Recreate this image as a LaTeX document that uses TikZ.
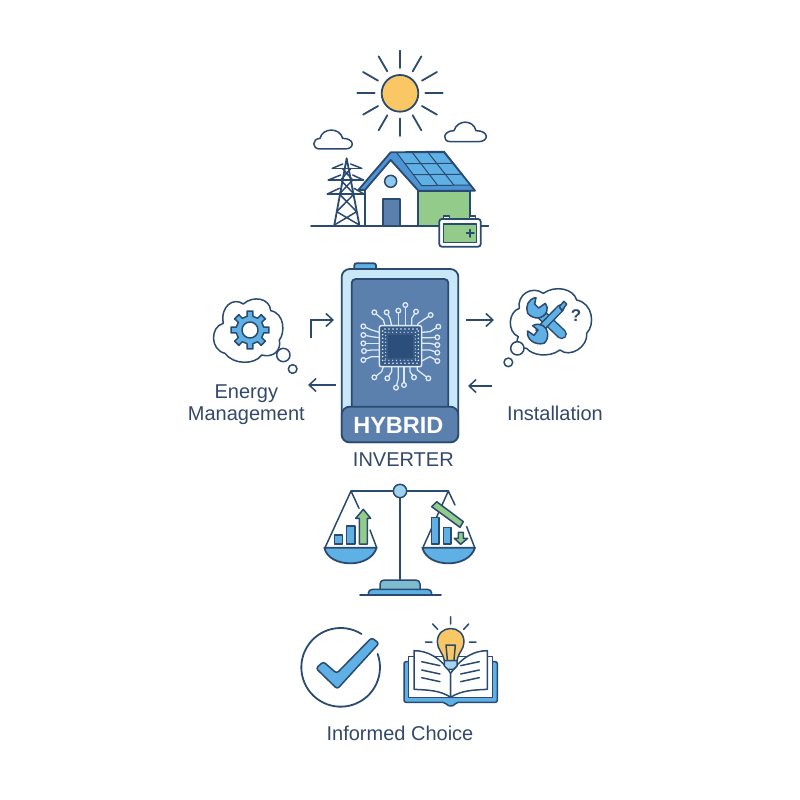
\documentclass[tikz,border=0pt]{standalone}
\usepackage{fontspec}
\setmainfont{Liberation Sans}
\usetikzlibrary{arrows.meta,calc}
\definecolor{ink}{HTML}{2B4A6F}
\definecolor{labelink}{HTML}{34496A}
\definecolor{sky}{HTML}{5FB0E5}
\definecolor{roofblue}{HTML}{4C94D4}
\definecolor{leaf}{HTML}{93CB8B}
\definecolor{sunny}{HTML}{F9C864}
\definecolor{steel}{HTML}{5B80AD}
\definecolor{pale}{HTML}{C9E7F6}
\definecolor{teal}{HTML}{7DBBD0}
\definecolor{chipdark}{HTML}{2C4E7A}
\definecolor{trace}{HTML}{DCEBF6}
\tikzset{
  line/.style={draw=ink,line width=1.8pt,line join=round,line cap=round},
  thin line/.style={draw=ink,line width=1.5pt,line join=round,line cap=round},
  hair line/.style={draw=ink,line width=1pt,line join=round,line cap=round},
  flow/.style={draw=ink,line width=1.5pt,-{Straight Barb[length=7pt,width=13pt]}},
  caption/.style={text=labelink,font=\fontsize{20}{22}\selectfont,inner sep=0pt,anchor=base},
  region/.style={x=0.33333pt,y=-0.33333pt},
  trace line/.style={draw=trace,line width=1.3pt,line join=round},
  trace pad/.style={draw=trace,line width=1.3pt,fill=steel},
}
\begin{document}
\begin{tikzpicture}[x=1pt,y=-1pt]
\useasboundingbox (0,0) rectangle (800,800);
\fill[white] (0,0) rectangle (800,800);

% Sun, clouds, pylon, house and battery
\begin{scope}[shift={(300pt,-40pt)},region]
  \coordinate (sun) at (300,160);
  \foreach \a in {0,30,...,330}
    \draw[line] ($(sun)+(\a:76)$) -- ($(sun)+(\a:128)$);
  \draw[line,fill=sunny] (sun) circle[radius=55];
  % clouds
  \draw[thin line,fill=white] (60,327) .. controls (35,327) and (35,297) .. (60,295)
     .. controls (68,262) and (120,262) .. (128,295)
     .. controls (165,295) and (165,327) .. (135,327) -- cycle;
  \draw[thin line,fill=white] (452,305) .. controls (425,305) and (428,272) .. (462,272)
     .. controls (472,238) and (520,238) .. (528,272)
     .. controls (568,272) and (568,305) .. (535,305) -- cycle;
  % pylon
  \draw[line] (140,355) -- (103,555) (140,355) -- (178,555);
  \draw[thin line] (97,385) -- (185,385) (85,420) -- (190,420) (82,462) -- (192,462);
  \draw[thin line] (97,385) -- (128,372) (185,385) -- (152,372)
     (85,420) -- (122,405) (190,420) -- (158,405)
     (82,462) -- (118,445) (192,462) -- (162,445);
  \draw[thin line] (127,385) -- (158,420) -- (118,462) -- (170,515) -- (103,555)
     (153,385) -- (122,420) -- (162,462) -- (110,515) -- (178,555);
  % walls
  \fill[white] (195,450) -- (272,360) -- (355,452) -- (355,557) -- (195,557) -- cycle;
  \draw[line,fill=leaf] (355,452) rectangle (510,557);
  \draw[thin line] (195,450) -- (195,557);
  \draw[line,fill=steel] (248,557) -- (248,478) -- (300,478) -- (300,557);
  \draw[thin line,fill=sky!70] (272,424) circle[radius=18];
  % roof band and solar array
  \draw[line,fill=roofblue] (272,337) -- (175,450) -- (195,450) -- (272,360) -- (355,452)
     -- (525,452) -- (432,335) -- cycle;
  \coordinate (pa) at (290,338);
  \coordinate (pb) at (432,338);
  \coordinate (pc) at (510,435);
  \coordinate (pd) at (365,437);
  \draw[hair line,fill=sky] (pa) -- (pb) -- (pc) -- (pd) -- cycle;
  \foreach \t in {0.333,0.667}{
    \draw[hair line] ($(pa)!\t!(pb)$) -- ($(pd)!\t!(pc)$);
    \draw[hair line] ($(pa)!\t!(pd)$) -- ($(pb)!\t!(pc)$);
  }
  % ground line
  \draw[line] (33,557) -- (565,557);
  % battery
  \draw[thin line,fill=white] (430,537) -- (430,528) -- (449,528) -- (449,537)
     (508,537) -- (508,528) -- (527,528) -- (527,537);
  \draw[line,fill=white,rounded corners=2.5pt] (418,537) rectangle (542,620);
  \draw[thin line,fill=leaf] (430,552) rectangle (530,608);
  \draw[line] (500,580) -- (522,580) (511,569) -- (511,591);
\end{scope}

% Inverter body with its processor
\begin{scope}[shift={(330pt,-255pt)},region]
  \draw[line,fill=sky,rounded corners=2pt] (73,42) -- (73,25) -- (138,25) -- (138,42);
  \draw[line,fill=pale,rounded corners=8pt] (35,42) rectangle (385,562);
  \draw[line,fill=steel,rounded corners=4pt] (65,455) -- (65,72) -- (355,72) -- (355,455);
  \draw[line,fill=steel,rounded corners=8pt] (35,455) -- (35,562) -- (385,562) -- (385,455) -- cycle;
  % traces: end point, bend point, start point on the package edge
  \foreach \ex/\ey/\bx/\by/\sx/\sy in {
     133/172/160/195/165/212, 170/172/180/190/185/212, 205/167/205/195/205/212,
     226/150/226/180/226/212, 258/170/245/190/245/212, 302/180/265/205/262/212,
     100/214/125/225/148/232, 100/240/125/245/148/248, 100/265/125/265/148/265,
     102/288/125/285/148/285, 100/315/125/305/148/305,
     325/215/300/230/275/232, 322/247/300/248/275/248, 322/270/300/265/275/265,
     322/293/300/285/275/285, 322/318/300/305/275/318,
     133/367/155/350/160/335, 172/370/185/350/185/335, 198/398/205/370/205/335,
     222/390/222/360/222/335, 252/367/240/350/240/335, 295/370/262/345/262/335}{
    \draw[trace line] (\sx,\sy) -- (\bx,\by) -- (\ex,\ey);
    \draw[trace pad] (\ex,\ey) circle[radius=7];
  }
  \draw[draw=trace,line width=1.5pt,fill=chipdark!75!steel,rounded corners=2pt] (148,212) rectangle (275,335);
  \fill[chipdark] (175,240) rectangle (250,310);
  \foreach \p in {0,1,...,8}{
    \fill[trace] (165+\p*12,222) circle[radius=2.6];
    \fill[trace] (165+\p*12,325) circle[radius=2.6];
    \fill[trace!80!steel] (165+\p*11.5,232) circle[radius=2.2];
    \fill[trace!80!steel] (165+\p*11.5,316) circle[radius=2.2];
    \fill[trace] (158,228+\p*11) circle[radius=2.6];
    \fill[trace] (265,228+\p*11) circle[radius=2.6];
    \fill[trace!80!steel] (167,232+\p*10) circle[radius=2.2];
    \fill[trace!80!steel] (256,232+\p*10) circle[radius=2.2];
  }
  \node[text=white,font=\fontsize{23.5}{26}\selectfont\bfseries,inner sep=0pt,anchor=base] (hybrid) at (205,534) {HYBRID};
  \node[caption] (inverter) at (220,633) {INVERTER};
\end{scope}

% Thought cloud with gear
\begin{scope}[shift={(180pt,-290pt)},region]
  \draw[thin line,fill=white]
    (135,190) .. controls (90,180) and (90,110) .. (130,100)
    .. controls (120,50) and (160,20) .. (190,42)
    .. controls (220,15) and (270,25) .. (272,62)
    .. controls (315,70) and (315,130) .. (298,150)
    .. controls (305,180) and (280,205) .. (245,195)
    .. controls (225,225) and (160,225) .. (135,190) -- cycle;
  \draw[thin line,fill=white] (310,195) circle[radius=20];
  \draw[thin line,fill=white] (338,237) circle[radius=13];
  \coordinate (gear) at (210,120);
  \draw[thin line,fill=sky,shift={(gear)}] (-12:42)
    \foreach \a in {0,45,...,315}{
      -- (\a-12:42) -- (\a-9:57) -- (\a+9:57) -- (\a+12:42) -- (\a+33:42)
    } -- cycle;
  \draw[thin line,fill=white] (gear) circle[radius=24];
  \node[caption] (energy) at (199,326) {Energy};
  \node[caption] (management) at (199,390) {Management};
\end{scope}

% Thought cloud with tools
\begin{scope}[shift={(460pt,-280pt)},region]
  \draw[thin line,fill=white]
    (175,170) .. controls (140,155) and (145,95) .. (178,85)
    .. controls (170,45) and (215,15) .. (250,40)
    .. controls (285,15) and (340,25) .. (350,60)
    .. controls (400,70) and (405,135) .. (380,160)
    .. controls (385,200) and (330,235) .. (300,210)
    .. controls (265,235) and (215,225) .. (200,205)
    .. controls (175,205) and (165,190) .. (175,170) -- cycle;
  \draw[thin line,fill=white] (172,205) circle[radius=20];
  \draw[thin line,fill=white] (145,247) circle[radius=13];
  % spanner and screwdriver, crossed
  \draw[line cap=round,draw=ink,line width=10.5pt] (240,100) -- (305,162);
  \draw[line cap=round,draw=sky,line width=7.5pt] (240,100) -- (305,162);
  \draw[thin line,fill=sky] (228,53) .. controls (205,55) and (195,80) .. (203,100)
     .. controls (220,120) and (250,118) .. (260,95) .. controls (263,85) and (262,78) .. (256,70)
     -- (236,84) -- (224,72) -- cycle;
  \draw[line cap=round,draw=ink,line width=8pt] (238,150) -- (302,84);
  \draw[line cap=round,draw=sky,line width=5pt] (238,150) -- (302,84);
  \draw[thin line,fill=sky] (298,80) -- (312,64) -- (320,72) -- (306,92) -- cycle;
  \draw[thin line,fill=sky] (252,190) .. controls (225,197) and (198,178) .. (203,153)
     -- (222,166) -- (234,150) -- (218,137) .. controls (240,125) and (262,140) .. (263,160)
     .. controls (264,172) and (260,184) .. (252,190) -- cycle;
  \node[text=ink,font=\fontsize{17}{18}\selectfont\bfseries,inner sep=0pt] (query) at (348,108) {?};
  \node[caption] (install) at (285,420) {Installation};
\end{scope}

% Flow arrows beside the inverter
\coordinate (elbowa) at (311,338);
\coordinate (elbowb) at (334,320);
\coordinate (backa) at (336,385);
\coordinate (backb) at (308,385);
\coordinate (outa) at (466,320);
\coordinate (outb) at (494,320);
\coordinate (ina) at (492,386);
\coordinate (inb) at (468,386);
\draw[flow] (elbowa) |- (elbowb);
\draw[flow] (backa) -- (backb);
\draw[flow] (outa) -- (outb);
\draw[flow] (ina) -- (inb);

% Balance with rising and falling bars
\begin{scope}[shift={(315pt,-475pt)},region]
  \draw[thin line] (108,48) -- (400,48);
  \draw[line] (255,48) -- (255,315);
  \draw[thin line] (108,48) -- (30,218) (108,48) -- (132,100) (165,165) -- (185,218);
  \draw[thin line] (400,48) -- (325,215) (400,48) -- (420,90) (455,155) -- (478,215);
  \draw[thin line,fill=sky] (58,180) rectangle (83,207);
  \draw[thin line,fill=sky] (95,153) rectangle (120,207);
  \draw[thin line,fill=leaf] (133,207) -- (133,130) -- (122,130) -- (145,103) -- (167,130) -- (157,130) -- (157,207) -- cycle;
  \draw[thin line,fill=sky] (350,127) rectangle (372,207);
  \draw[thin line,fill=sky] (385,158) rectangle (408,207);
  \draw[thin line,fill=leaf] (350,95) -- (365,80) -- (445,140) -- (435,157) -- cycle;
  \draw[thin line,fill=leaf] (430,172) -- (445,172) -- (445,190) -- (458,190) -- (437,208) -- (418,190) -- (430,190) -- cycle;
  \draw[line,fill=sky] (28,218) -- (185,218) .. controls (175,250) and (140,265) .. (107,265)
     .. controls (70,265) and (35,250) .. (28,218) -- cycle;
  \draw[line,fill=sky] (322,218) -- (480,218) .. controls (470,250) and (435,265) .. (400,265)
     .. controls (365,265) and (330,250) .. (322,218) -- cycle;
  \draw[thin line,fill=pale!60!sky] (255,48) circle[radius=20];
  \draw[thin line,fill=teal,rounded corners=4pt] (195,345) -- (195,315) -- (315,315) -- (315,345);
  \draw[thin line,fill=sky,rounded corners=4pt] (160,358) -- (160,343) -- (350,343) -- (350,358);
  \draw[line] (135,360) -- (378,360);
\end{scope}

% Tick mark and open book under a bulb
\begin{scope}[shift={(290pt,-610pt)},region]
  \coordinate (tickc) at (152,172);
  \draw[line] ($(tickc)+(-58:118)$) arc[start angle=-58,end angle=-380,radius=118];
  \draw[thin line,fill=sky,rounded corners=2.5pt] (78,175) -- (100,155) -- (140,190) -- (245,83) -- (267,100) -- (142,237) -- cycle;
  % book cover and pages
  \draw[thin line,fill=sky,rounded corners=2pt] (342,155) -- (342,277) -- (465,277)
     .. controls (475,290) and (490,290) .. (498,277) -- (622,277) -- (622,155) -- cycle;
  \draw[thin line,fill=white] (356,140) -- (356,262) -- (608,262) -- (608,140) -- cycle;
  \draw[thin line,fill=white] (482,262) .. controls (450,240) and (410,240) .. (372,238) -- (372,122)
     .. controls (410,122) and (450,140) .. (482,190) -- cycle;
  \draw[thin line,fill=white] (482,262) .. controls (515,240) and (555,240) .. (592,238) -- (592,122)
     .. controls (555,122) and (515,140) .. (482,190) -- cycle;
  \foreach \y in {155,180,203}{
    \draw[thin line] (395,\y) -- (450,\y+12);
    \draw[thin line] (568,\y) -- (512,\y+12);
  }
  % bulb
  \draw[thin line,fill=sky!55] (463,150) -- (463,168) -- (473,178) -- (491,178) -- (501,168) -- (501,150) -- cycle;
  \draw[thin line,fill=sunny] (463,152) .. controls (458,125) and (442,118) .. (442,96)
     .. controls (442,42) and (522,42) .. (522,96) .. controls (522,118) and (506,125) .. (501,152) -- cycle;
  \draw[thin line] (472,150) -- (468,105) -- (496,105) -- (492,150);
  \draw[thin line] (482,20) -- (482,42) (428,42) -- (443,58) (536,42) -- (521,58)
     (406,96) -- (426,96) (538,96) -- (558,96);
  \node[caption] (choice) at (330,390) {Informed Choice};
\end{scope}
\end{tikzpicture}
\end{document}
